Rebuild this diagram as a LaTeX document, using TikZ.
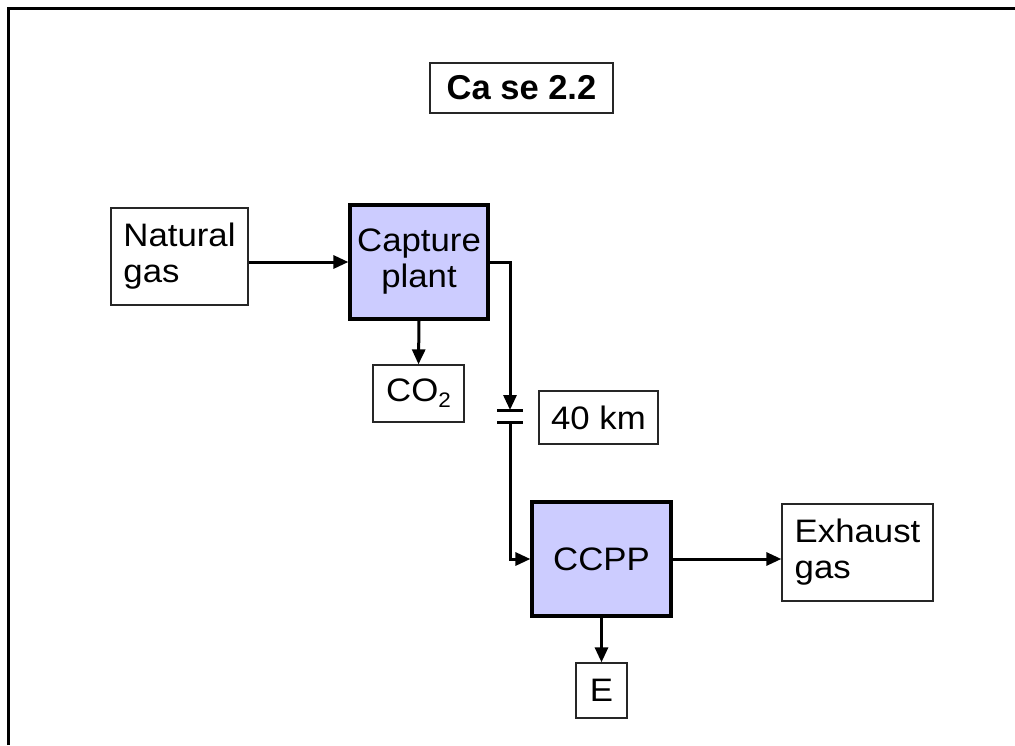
\documentclass[tikz,border=0pt]{standalone}
\usepackage{fontspec}
\setmainfont{Liberation Sans}[FakeStretch=1.07]
\newfontfamily\titlefont{Liberation Sans}
\usetikzlibrary{arrows.meta}
\definecolor{lav}{HTML}{CCCCFF}
\tikzset{
  thinbox/.style={draw=black!85, line width=1.3pt, fill=white, inner sep=0pt, align=left,
    font=\fontsize{32.5}{36}\selectfont},
  unitbox/.style={draw=black, line width=3.2pt, fill=lav, inner sep=0pt, align=center,
    font=\fontsize{32.5}{36}\selectfont},
  flow/.style={line width=3pt, -{Triangle[length=15pt,width=13pt]}},
  pipe/.style={line width=3pt},
}
\begin{document}
\begin{tikzpicture}[x=1pt,y=-1pt]
\useasboundingbox (0,0) rectangle (1015,745);
% outer frame
\draw[line width=3pt] (8.3,745) -- (8.3,8.3) -- (1015,8.3);
% title
\node[draw=black!85, line width=1.5pt, inner sep=0pt, minimum width=183, minimum height=50,
  font=\titlefont\bfseries\fontsize{34.5}{40}\selectfont] (title) at (521.5,88) {Ca se 2.2};
% boxes
\node[thinbox, minimum width=137, minimum height=97] (ng) at (179.5,256.5) {Natural\\gas};
\node[unitbox, minimum width=138, minimum height=114] (cap) at (419,262) {Capture\\plant};
\node[thinbox, minimum width=91, minimum height=57] (co2) at (418.5,393.5)
  {CO\raisebox{-0.35ex}{\fontsize{21}{21}\selectfont 2}};
\node[thinbox, minimum width=119, minimum height=53] (km) at (598.5,417.5) {40 km};
\node[unitbox, minimum width=139, minimum height=114] (ccpp) at (601.5,559) {CCPP};
\node[thinbox, minimum width=151, minimum height=97] (ex) at (857.5,552.5) {Exhaust\\gas};
\node[thinbox, minimum width=51, minimum height=55] (e) at (601.5,690.5) {E};
% pipe junction
\coordinate (b1) at (510,410);
\coordinate (b2) at (510,422);
% connectors
\draw[flow] (cap.west -| ng.east) -- (cap.west);
\draw[flow] (cap.south) -- (co2.north);
\draw[flow] (cap.east) -| (b1);
\draw[pipe] ([xshift=-13pt]b1) -- ([xshift=13pt]b1);
\draw[pipe] ([xshift=-13pt]b2) -- ([xshift=13pt]b2);
\draw[flow] (b2) |- (ccpp.west);
\draw[flow] (ccpp.east) -- (ccpp.east -| ex.west);
\draw[flow] (ccpp.south) -- (e.north);
\end{tikzpicture}
\end{document}
